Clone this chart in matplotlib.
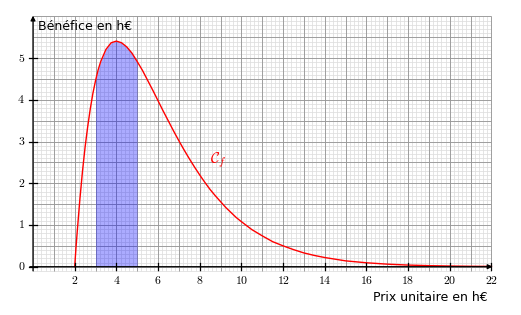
import matplotlib
matplotlib.use("Agg")
import matplotlib.pyplot as plt
import numpy as np

plt.rcParams['mathtext.fontset'] = 'cm'

# Curve values (Prix unitaire -> Bénéfice)
x_vals = [2, 2.0625, 2.125, 2.25, 2.375, 2.5, 2.625, 2.75, 2.875, 3, 3.125, 3.25, 3.5, 3.75,
          4, 4.25, 4.5, 4.75, 5, 5.25, 5.5, 5.75, 6, 6.25, 6.5, 6.75, 7, 7.25, 7.5, 7.75,
          8, 8.25, 8.5, 8.75, 9, 9.25, 9.5, 9.75, 10, 10.5, 11, 11.5, 12, 12.5, 13, 13.5,
          14, 14.5, 15, 16, 17, 18, 19, 20, 21, 22]
y_vals = [0, 0.45, 0.86, 1.62, 2.29, 2.87, 3.36, 3.79, 4.16, 4.46, 4.72, 4.92, 5.21, 5.37,
          5.41, 5.37, 5.27, 5.12, 4.92, 4.71, 4.47, 4.23, 3.98, 3.73, 3.49, 3.25, 3.02, 2.80, 2.59, 2.39,
          2.20, 2.02, 1.85, 1.70, 1.56, 1.42, 1.30, 1.18, 1.08, 0.89, 0.74, 0.60, 0.50, 0.41, 0.33, 0.27,
          0.22, 0.18, 0.14, 0.094, 0.061, 0.039, 0.025, 0.016, 0.010, 0.007]
shade_from, shade_to = 3, 5
x_ticks = [2, 4, 6, 8, 10, 12, 14, 16, 18, 20, 22]
y_ticks = [0, 1, 2, 3, 4, 5]
x_label = "Prix unitaire en h€"
y_label = "Bénéfice en h€"
curve_label = r"$\mathcal{C}_f$"

W, H = 521, 315
fig = plt.figure(figsize=(W / 100, H / 100), dpi=100)
ax = fig.add_axes([0, 0, 1, 1])
ax.set_axis_off()

px_x, px_y = 20.84, 41.7
ox, oy = 33.0, 315 - 266.7
ax.set_xlim(-ox / px_x, (W - ox) / px_x)
ax.set_ylim(-oy / px_y, (H - oy) / px_y)

xmin, xmax, ymin, ymax = 0, 22, -0.1, 6
# minor grid
ax.vlines(np.arange(xmin, xmax + 1e-9, 0.2), ymin, ymax, color='#dedede', lw=0.55, zorder=0)
ax.hlines(np.arange(ymin, ymax + 1e-9, 0.1), xmin, xmax, color='#dedede', lw=0.55, zorder=0)
# major grid
ax.vlines(np.arange(xmin, xmax + 1e-9, 1), ymin, ymax, color='#999999', lw=0.65, zorder=1)
ax.hlines(np.arange(0, ymax + 1e-9, 0.5), xmin, xmax, color='#999999', lw=0.65, zorder=1)

xa = np.array(x_vals)
ya = np.array(y_vals)
mask = (xa >= shade_from) & (xa <= shade_to)
ax.fill_between(xa[mask], 0, ya[mask], color='blue', alpha=0.33, lw=0, zorder=2)

# axes with arrows
ax.annotate('', xy=(22.05, 0), xytext=(-0.15, 0),
            arrowprops=dict(arrowstyle='-|>', lw=0.9, color='black', mutation_scale=7,
                            shrinkA=0, shrinkB=0), zorder=4)
ax.annotate('', xy=(0, 6.02), xytext=(0, -0.1),
            arrowprops=dict(arrowstyle='-|>', lw=0.9, color='black', mutation_scale=7,
                            shrinkA=0, shrinkB=0), zorder=4)

for t in x_ticks:
    ax.plot([t, t], [-0.08, 0.08], color='black', lw=0.9, zorder=4)
    ax.text(t, -0.34, f"${t}$", ha='center', va='center', fontsize=8.5, zorder=5)
for t in y_ticks:
    ax.plot([-0.17, 0.17], [t, t], color='black', lw=0.9, zorder=4)
    ax.text(-0.38, t, f"${t}$", ha='right', va='center', fontsize=8.5, zorder=5)

ax.plot(xa, ya, color='red', lw=1.0, zorder=3)

ax.text(0.24, 5.75, y_label, ha='left', va='center', fontsize=9, family='DejaVu Sans', zorder=5)
ax.text(21.8, -0.75, x_label, ha='right', va='center', fontsize=9, family='DejaVu Sans', zorder=5)
ax.text(8.88, 2.56, curve_label, ha='center', va='center', fontsize=11, color='red', zorder=5)

fig.savefig("out.png", dpi=100)
